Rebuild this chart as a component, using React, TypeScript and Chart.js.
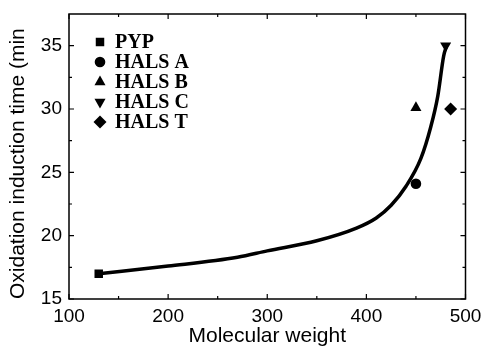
import React, { useEffect, useRef } from 'react';
import { Chart, registerables } from 'chart.js';

Chart.register(...registerables);

const SERIES = ['PYP', 'HALS A', 'HALS B', 'HALS C', 'HALS T'];
const MW = [130, 450, 450, 480, 485];
const OIT = [17.0, 24.1, 30.1, 35.0, 30.0];
const POINT_STYLES = ['rect', 'circle', 'triangle', 'triangle', 'rectRot'];
const POINT_ROT = [0, 0, 0, 180, 0];
const POINT_R = [6, 5.3, 6.4, 6.4, 6.5];

const FIT_MW = [130, 200, 270, 300, 350, 390, 410, 425, 440, 455, 465, 472, 478, 481];
const FIT_OIT = [17.0, 17.6, 18.3, 18.8, 19.6, 20.6, 21.4, 22.4, 23.9, 26.1, 28.6, 31.0, 34.2, 35.0];

const X_TICKS = [100, 200, 300, 400, 500];
const X_MINOR = [150, 250, 350, 450];
const Y_TICKS = [15, 20, 25, 30, 35];
const Y_MINOR = [17.5, 22.5, 27.5, 32.5];

const X_TITLE = 'Molecular weight';
const Y_TITLE = 'Oxidation induction time (min';

const SANS = '"Liberation Sans", Arial, sans-serif';

function drawMarker(ctx: CanvasRenderingContext2D, style: string, rot: number, x: number, y: number, r: number) {
  ctx.save();
  ctx.translate(x, y);
  ctx.rotate((rot * Math.PI) / 180);
  ctx.beginPath();
  if (style === 'rect') {
    const s = Math.SQRT1_2 * r;
    ctx.rect(-s, -s, 2 * s, 2 * s);
  } else if (style === 'circle') {
    ctx.arc(0, 0, r, 0, Math.PI * 2);
  } else if (style === 'triangle') {
    ctx.moveTo(0, -r);
    ctx.lineTo(r * Math.cos(Math.PI / 6), r * 0.5);
    ctx.lineTo(-r * Math.cos(Math.PI / 6), r * 0.5);
    ctx.closePath();
  } else if (style === 'rectRot') {
    ctx.moveTo(0, -r);
    ctx.lineTo(r, 0);
    ctx.lineTo(0, r);
    ctx.lineTo(-r, 0);
    ctx.closePath();
  }
  ctx.fillStyle = '#000';
  ctx.fill();
  ctx.restore();
}

const framePlugin = {
  id: 'frameTicks',
  afterDraw(chart: any) {
    const ctx: CanvasRenderingContext2D = chart.ctx;
    const { left, right, top, bottom } = chart.chartArea;
    const xs = chart.scales.x;
    const ys = chart.scales.y;
    ctx.save();
    ctx.strokeStyle = '#000';
    ctx.lineWidth = 1.5;
    ctx.strokeRect(left, top, right - left, bottom - top);
    ctx.lineWidth = 1.2;
    const tick = (vals: number[], len: number) => {
      vals.forEach((v) => {
        const px = xs.getPixelForValue(v);
        ctx.beginPath();
        ctx.moveTo(px, bottom);
        ctx.lineTo(px, bottom - len);
        ctx.moveTo(px, top);
        ctx.lineTo(px, top + len);
        ctx.stroke();
      });
    };
    const ytick = (vals: number[], len: number) => {
      vals.forEach((v) => {
        const py = ys.getPixelForValue(v);
        ctx.beginPath();
        ctx.moveTo(left, py);
        ctx.lineTo(left + len, py);
        ctx.moveTo(right, py);
        ctx.lineTo(right - len, py);
        ctx.stroke();
      });
    };
    tick(X_TICKS, 5);
    tick(X_MINOR, 3);
    ytick(Y_TICKS, 5);
    ytick(Y_MINOR, 3);

    // legend inside plot
    ctx.font = 'bold 20px "Liberation Serif", "Times New Roman", serif';
    ctx.textBaseline = 'middle';
    ctx.textAlign = 'left';
    ctx.fillStyle = '#000';
    SERIES.forEach((name, i) => {
      const cy = 42 + i * 20;
      drawMarker(ctx, POINT_STYLES[i], POINT_ROT[i], 100, cy, POINT_R[i]);
      ctx.fillText(name, 115, cy + 1);
    });
    ctx.restore();
  },
};

export default function App() {
  const ref = useRef<HTMLCanvasElement>(null);
  useEffect(() => {
    if (!ref.current) return;
    const pointDatasets = SERIES.map((name, i) => ({
      label: name,
      data: [{ x: MW[i], y: OIT[i] }],
      pointStyle: POINT_STYLES[i] as any,
      rotation: POINT_ROT[i],
      pointRadius: POINT_R[i],
      backgroundColor: '#000',
      borderColor: '#000',
      borderWidth: 0,
      showLine: false,
      order: 1,
    }));
    const chart = new Chart(ref.current, {
      type: 'scatter',
      data: {
        datasets: [
          ...pointDatasets,
          {
            label: 'fit',
            data: FIT_MW.map((x, i) => ({ x, y: FIT_OIT[i] })),
            showLine: true,
            pointRadius: 0,
            borderColor: '#000',
            borderWidth: 3.5,
            cubicInterpolationMode: 'monotone',
            order: 10,
          } as any,
        ],
      },
      options: {
        animation: false,
        responsive: false,
        layout: { padding: { top: 14, right: 17.5, left: 0, bottom: 0 } },
        plugins: { legend: { display: false }, tooltip: { enabled: false } },
        scales: {
          x: {
            type: 'linear',
            min: 100,
            max: 500,
            grid: { display: false, drawTicks: false },
            border: { display: false },
            afterBuildTicks: (s: any) => {
              s.ticks = X_TICKS.map((v) => ({ value: v }));
            },
            afterFit: (s: any) => {
              s.height = 48;
              s.paddingLeft = 0;
              s.paddingRight = 0;
              s.paddingTop = 0;
              s.paddingBottom = 0;
            },
            ticks: {
              color: '#000',
              padding: 6,
              maxRotation: 0,
              font: { family: SANS, size: 19 },
            },
            title: {
              display: true,
              text: X_TITLE,
              color: '#000',
              padding: { top: 0, bottom: 0 },
              font: { family: SANS, size: 21, lineHeight: 1 },
            },
          },
          y: {
            type: 'linear',
            min: 15,
            max: 37.5,
            grid: { display: false, drawTicks: false },
            border: { display: false },
            afterBuildTicks: (s: any) => {
              s.ticks = Y_TICKS.map((v) => ({ value: v }));
            },
            afterFit: (s: any) => {
              s.width = 69;
              s.paddingLeft = 0;
              s.paddingRight = 0;
              s.paddingTop = 0;
              s.paddingBottom = 0;
            },
            ticks: {
              color: '#000',
              padding: 7,
              font: { family: SANS, size: 19 },
            },
            title: {
              display: true,
              text: Y_TITLE,
              align: 'start',
              color: '#000',
              padding: { top: 8, bottom: 0 },
              font: { family: SANS, size: 21, lineHeight: 1 },
            },
          },
        },
      },
      plugins: [framePlugin],
    });
    return () => chart.destroy();
  }, []);
  return (
    <div style={{ position: 'fixed', left: 0, top: 0, width: 483, height: 347, background: '#fff' }}>
      <canvas ref={ref} width={483} height={347} style={{ display: 'block' }} />
    </div>
  );
}
